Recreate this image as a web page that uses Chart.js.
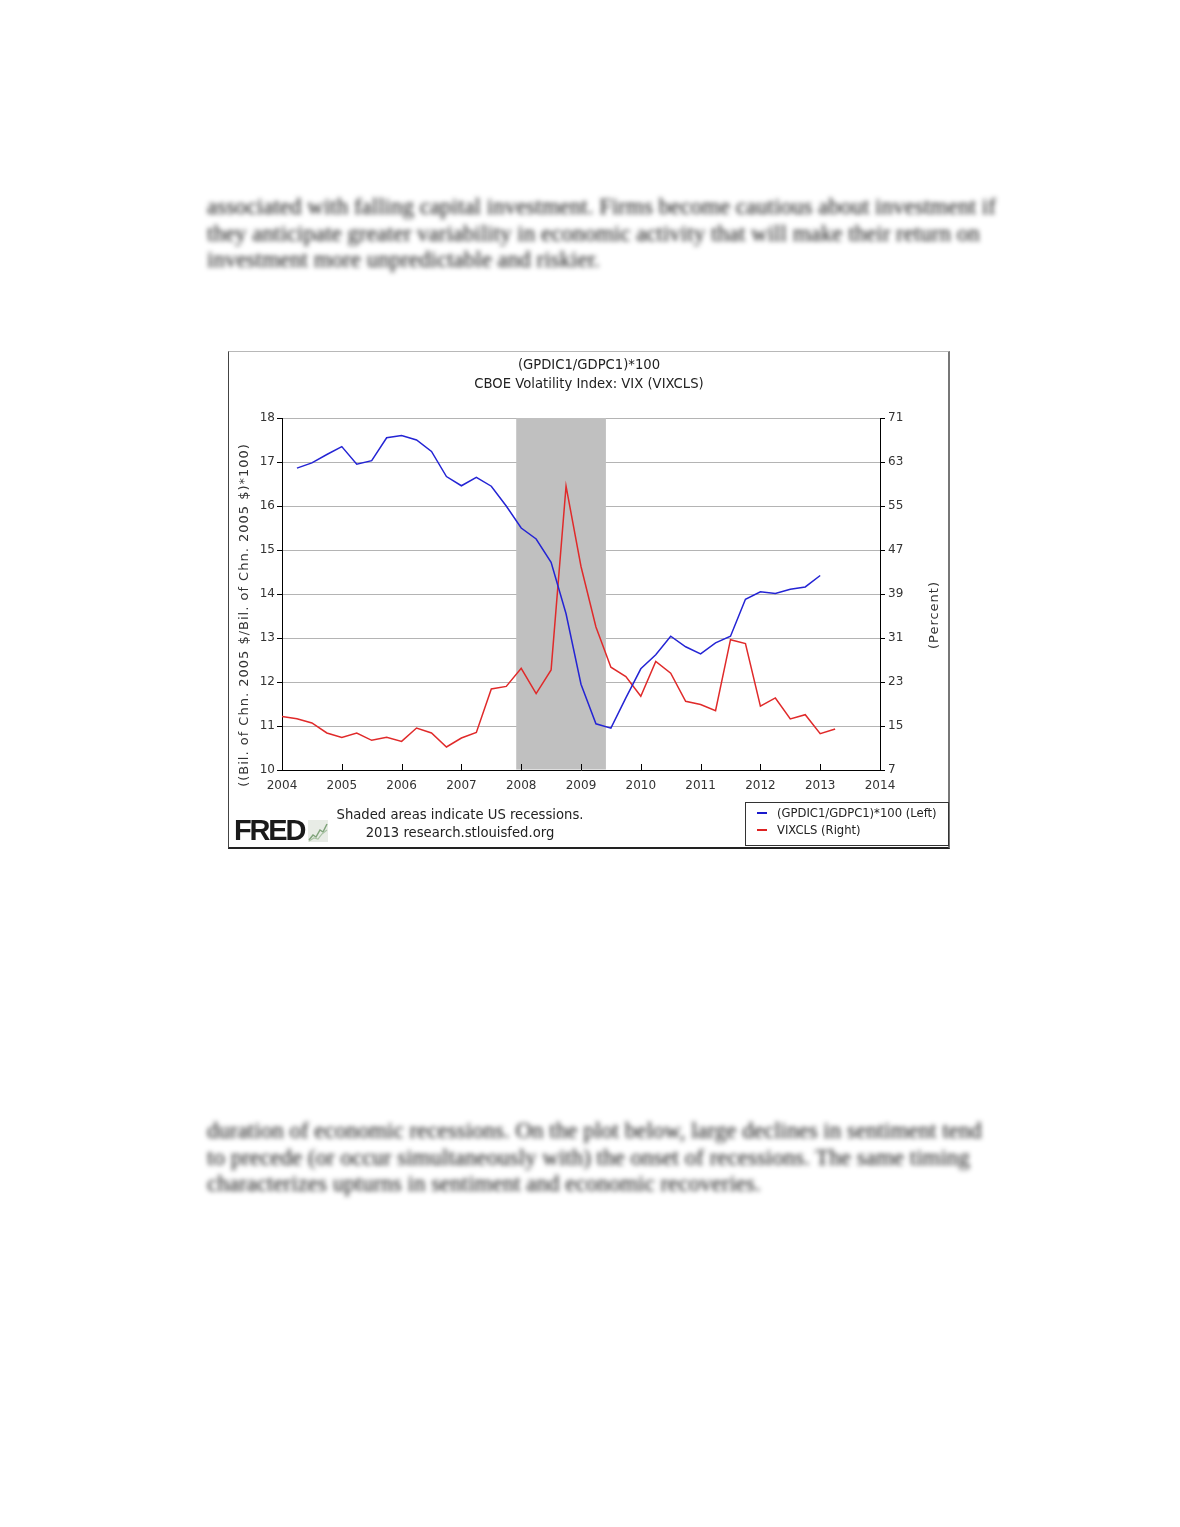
<!DOCTYPE html>
<html>
<head>
<meta charset="utf-8">
<script src="https://cdn.jsdelivr.net/npm/chart.js@4.4.1/dist/chart.umd.min.js"></script>
<style>
  html, body { margin: 0; padding: 0; background: #fff; }
  body { width: 1180px; height: 1527px; position: relative; overflow: hidden; font-family: "DejaVu Sans", Verdana, sans-serif; }
  .para { position: absolute; left: 207px; width: 820px; font-family: "Liberation Serif", "Times New Roman", serif;
          font-size: 23px; line-height: 26.5px; color: #111; filter: blur(2.8px); white-space: nowrap; }
  #frame { position: absolute; left: 228px; top: 351px; width: 722px; height: 498px; box-sizing: border-box;
           border-top: 1px solid #b8b8b8; border-right: 2px solid #777; border-bottom: 2px solid #222; border-left: 1px solid #444;
           pointer-events: none; }
  #chart { position: absolute; left: 228px; top: 350px; }
  .t { position: absolute; color: #222; font-size: 13.2px; white-space: nowrap; transform: translate(-50%, -50%); }
  .rot { position: absolute; font-size: 13px; letter-spacing: 1px; color: #333; white-space: nowrap;
         transform: translate(-50%, -50%) rotate(-90deg); }
  #legend { position: absolute; left: 745px; top: 802px; width: 204px; height: 44px; box-sizing: border-box;
            border: 1px solid #333; font-size: 11.6px; color: #222; }
  #legend div { position: absolute; left: 31px; white-space: nowrap; transform: translateY(-50%); }
  #legend span { position: absolute; left: 11px; width: 10px; height: 2px; }
  #fred { position: absolute; left: 234px; top: 815px; font-family: "Liberation Sans", Arial, sans-serif; font-weight: bold;
          font-size: 29px; letter-spacing: -2.2px; color: #1a1a1a; line-height: 30px; }
</style>
</head>
<body>

<div class="para" style="top:194px;">associated with falling capital investment. Firms become cautious about investment if<br>they anticipate greater variability in economic activity that will make their return on<br>investment more unpredictable and riskier.</div>

<canvas id="chart" width="722" height="499"></canvas>
<div id="frame"></div>

<div class="t" style="left:589px; top:364px;">(GPDIC1/GDPC1)*100</div>
<div class="t" style="left:589px; top:383px;">CBOE Volatility Index: VIX (VIXCLS)</div>
<div class="rot" style="left:243px; top:615px;">((Bil. of Chn. 2005 $/Bil. of Chn. 2005 $)*100)</div>
<div class="rot" style="left:933px; top:615px;">(Percent)</div>

<div class="t" style="left:460px; top:814px;">Shaded areas indicate US recessions.</div>
<div class="t" style="left:460px; top:832px;">2013 research.stlouisfed.org</div>

<div id="fred">FRED</div>
<svg style="position:absolute; left:308px; top:820px;" width="20" height="22" viewBox="0 0 20 22">
  <rect x="0" y="0" width="20" height="22" fill="#e8ece6"/>
  <polyline points="1,20 5,15 8,17 12,10 15,12 19,4" fill="none" stroke="#7fa37a" stroke-width="1.5"/>
  <polyline points="1,21 6,18 10,19 14,14 19,10" fill="none" stroke="#a9c3a4" stroke-width="1.2"/>
</svg>

<div id="legend">
  <span style="top:9px; background:#1a1acc;"></span><div style="top:10px;">(GPDIC1/GDPC1)*100 (Left)</div>
  <span style="top:26px; background:#dd2222;"></span><div style="top:27px;">VIXCLS (Right)</div>
</div>

<div class="para" style="top:1118px;">duration of economic recessions. On the plot below, large declines in sentiment tend<br>to precede (or occur simultaneously with) the onset of recessions. The same timing<br>characterizes upturns in sentiment and economic recoveries.</div>

<script>
// quarterly observations, 2004Q1 .. 2013Q2
const quarters = [
  "2004Q1","2004Q2","2004Q3","2004Q4","2005Q1","2005Q2","2005Q3","2005Q4",
  "2006Q1","2006Q2","2006Q3","2006Q4","2007Q1","2007Q2","2007Q3","2007Q4",
  "2008Q1","2008Q2","2008Q3","2008Q4","2009Q1","2009Q2","2009Q3","2009Q4",
  "2010Q1","2010Q2","2010Q3","2010Q4","2011Q1","2011Q2","2011Q3","2011Q4",
  "2012Q1","2012Q2","2012Q3","2012Q4","2013Q1","2013Q2"
];

// (GPDIC1/GDPC1)*100, left axis
const investShare = [
  null, 16.86, 16.98, 17.17, 17.35, 16.95, 17.03, 17.55,
  17.60, 17.50, 17.24, 16.67, 16.46, 16.65, 16.45, 16.00,
  15.50, 15.25, 14.72, 13.55, 11.95, 11.05, 10.95, 11.64,
  12.30, 12.62, 13.04, 12.80, 12.64, 12.89, 13.04, 13.88,
  14.05, 14.01, 14.11, 14.16, 14.42, null
];

// VIXCLS quarterly average, right axis
const vix = [
  16.75, 16.33, 15.55, 13.73, 12.93, 13.73, 12.40, 12.93,
  12.20, 14.64, 13.73, 11.18, 12.82, 13.84, 21.73, 22.20,
  25.50, 20.90, 25.20, 58.60, 44.00, 33.00, 25.70, 24.00,
  20.40, 26.75, 24.60, 19.50, 18.90, 17.80, 30.70, 30.00,
  18.60, 20.10, 16.30, 17.05, 13.60, 14.45
];

// recession: Dec 2007 - Jun 2009
const recessionStart = 2007 + 11 / 12;
const recessionEnd = 2009 + 5 / 12;

const leftTicks = { min: 10, max: 18, step: 1 };
const rightTicks = { min: 7, max: 71, step: 8 };
const yearTicks = { min: 2004, max: 2014, step: 1 };

const toYear = q => Number(q.slice(0, 4)) + (Number(q.slice(5)) - 1) / 4;
const points = vals => quarters.map((q, i) => ({ x: toYear(q), y: vals[i] }));

const font = { family: "DejaVu Sans", size: 12 };

const recessionShade = {
    id: "recessionShade",
    beforeDatasetsDraw(chart) {
        const { ctx, chartArea: a, scales: { x } } = chart;
        const x0 = x.getPixelForValue(recessionStart);
        const x1 = x.getPixelForValue(recessionEnd);
        ctx.save();
        ctx.fillStyle = "#c0c0c0";
        ctx.fillRect(x0, a.top, x1 - x0, a.bottom - a.top - 0.5);
        ctx.restore();
    },
    afterDraw(chart) {
        // FRED draws the year ticks pointing into the plot
        const { ctx, chartArea: a, scales: { x } } = chart;
        ctx.save();
        ctx.strokeStyle = "#000";
        ctx.lineWidth = 1;
        ctx.beginPath();
        x.ticks.forEach(t => {
            if (t.value <= yearTicks.min || t.value >= yearTicks.max) return;
            const px = Math.round(x.getPixelForValue(t.value)) + 0.5;
            ctx.moveTo(px, a.bottom);
            ctx.lineTo(px, a.bottom - 6);
        });
        ctx.stroke();
        ctx.restore();
    }
};

new Chart(document.getElementById("chart"), {
    type: "line",
    data: {
        datasets: [
            { label: "(GPDIC1/GDPC1)*100 (Left)", data: points(investShare), yAxisID: "y",
              borderColor: "#2424d4", borderWidth: 1.5, pointRadius: 0, tension: 0 },
            { label: "VIXCLS (Right)", data: points(vix), yAxisID: "y1",
              borderColor: "#e02a2a", borderWidth: 1.5, pointRadius: 0, tension: 0 }
        ]
    },
    options: {
        responsive: false,
        animation: false,
        layout: { padding: { top: 68, left: 0, right: 0, bottom: 0 } },
        plugins: { legend: { display: false }, tooltip: { enabled: false }, title: { display: false } },
        scales: {
            x: {
                type: "linear", min: yearTicks.min, max: yearTicks.max,
                ticks: { stepSize: yearTicks.step, callback: v => String(v), font, color: "#333", padding: 9 },
                grid: { display: false, drawTicks: false },
                border: { color: "#000", width: 1 },
                afterFit: s => { s.height = 79; }
            },
            y: {
                position: "left", min: leftTicks.min, max: leftTicks.max,
                ticks: { stepSize: leftTicks.step, font, color: "#333", padding: 2 },
                grid: { color: "#b4b4b4", tickColor: "#000", tickLength: 5 },
                border: { color: "#000", width: 1 },
                afterFit: s => { s.width = 54; }
            },
            y1: {
                position: "right", min: rightTicks.min, max: rightTicks.max,
                ticks: { stepSize: rightTicks.step, font, color: "#333", padding: 3 },
                grid: { drawOnChartArea: false, tickColor: "#000", tickLength: 5 },
                border: { color: "#000", width: 1 },
                afterFit: s => { s.width = 70; }
            }
        }
    },
    plugins: [recessionShade]
});
</script>
</body>
</html>
